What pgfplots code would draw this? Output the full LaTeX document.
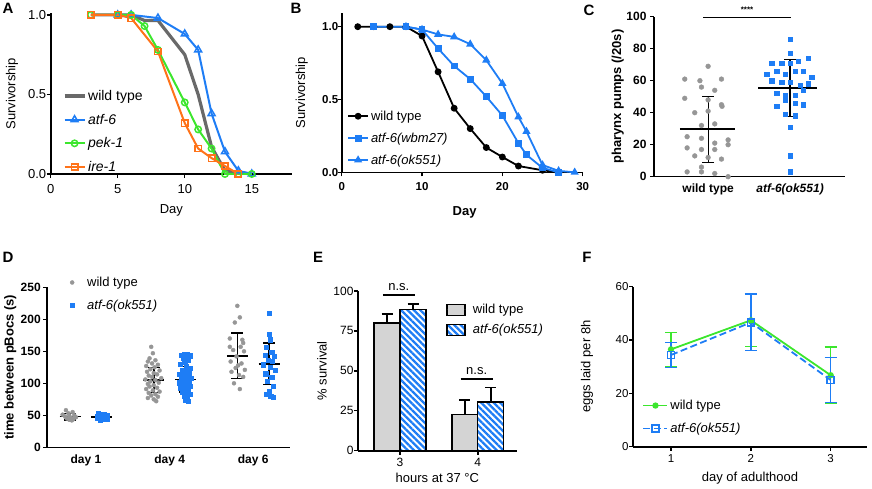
\documentclass[border=0pt]{standalone}
\usepackage{fontspec}
\setmainfont{Liberation Sans}
\usepackage{pgfplots}
\pgfplotsset{compat=1.18}
\usetikzlibrary{patterns.meta}

\definecolor{wtgray}{RGB}{105,105,105}
\definecolor{ptgray}{RGB}{150,150,150}
\definecolor{bargray}{RGB}{212,212,212}
\definecolor{atfblue}{RGB}{30,125,245}
\definecolor{pekgreen}{RGB}{60,230,45}
\definecolor{ireorange}{RGB}{255,115,25}

\newcommand{\tk}{\fontsize{12}{14}\selectfont}
\newcommand{\lb}{\fontsize{13}{15}\selectfont}

\pgfplotsset{
  panel/.style={
    scale only axis, anchor=south west, clip=false,
    axis lines=left, axis line style={-, line width=1.6pt},
    tick style={line width=1.4pt, black}, tick align=outside,
    major tick length=4pt,
    /pgf/number format/assume math mode=true,
    ticklabel style={font=\tk},
    label style={font=\lb},
    legend cell align=left,
    legend style={draw=none, fill=none, font=\lb, inner sep=0pt},
  },
  linelegend/.style={legend image code/.code={
    \draw[mark repeat=2,mark phase=2,##1] plot coordinates {(0pt,0pt) (10pt,0pt) (20pt,0pt)};}},
  sdbar/.style={draw=none, mark=none, error bars/.cd, y dir=both, y explicit,
    error bar style={draw=black, solid, line width=#1},
    error mark options={rotate=90, mark size=6pt, line width=#1, draw=black}},
}

\begin{document}
\begin{tikzpicture}
\useasboundingbox (0,0) rectangle (872pt,488pt);

% ---------- A ----------
\begin{axis}[panel, linelegend, at={(50.7pt,314pt)}, width=241.3pt, height=160.7pt,
  xmin=0, xmax=18, ymin=0, ymax=1.01, xtick={0,5,10,15}, ytick={0,0.5,1},
  ticklabel style={font=\fontsize{13}{15}\selectfont},
  yticklabel style={xshift=3pt, /pgf/number format/.cd, fixed, fixed zerofill, precision=1},
  xticklabel style={yshift=-3pt},
  xlabel={Day}, ylabel={Survivorship},
  xlabel style={at={(axis description cs:0.5,-0.224)}, anchor=center},
  ylabel style={at={(axis description cs:-0.16,0.5)}, anchor=center},
  legend style={at={(axis description cs:0.05,0.535)}, anchor=north west, row sep=8pt,
    font=\fontsize{14}{16}\selectfont}]
\addplot[wtgray, line width=3.2pt] coordinates {
 (3,1) (5,1) (6,1) (7,0.965) (8,0.965) (10,0.75) (11,0.5) (12,0.17) (13,0.02) (14,0.01) (15,0)};
\addplot[atfblue, line width=2pt, mark=triangle, mark size=4pt, mark options={fill=white, line width=1.5pt}] coordinates {
 (5,1) (6,1) (8,0.98) (10,0.88) (11,0.78) (12,0.38) (13,0.14) (14,0.02) (15,0)};
\addplot[pekgreen, line width=2pt, mark=o, mark size=3.2pt, mark options={fill=white, line width=1.5pt}] coordinates {
 (3,1) (5,1) (6,1) (7,0.93) (8,0.78) (10,0.45) (11,0.28) (12,0.16) (13,0) (14,0) (15,0)};
\addplot[ireorange, line width=2pt, mark=square, mark size=3.2pt, mark options={fill=white, line width=1.5pt}] coordinates {
 (3,1) (5,1) (6,0.98) (8,0.77) (10,0.32) (11,0.16) (12,0.1) (13,0.05) (14,0)};
\legend{wild type, \textit{atf-6}, \textit{pek-1}, \textit{ire-1}}
\end{axis}

% ---------- B ----------
\begin{axis}[panel, linelegend, at={(341.7pt,315.7pt)}, width=241pt, height=159.3pt,
  xmin=0, xmax=30, ymin=0, ymax=1.094, xtick={0,10,20,30}, ytick={0,0.5,1},
  ticklabel style={font=\fontsize{11.5}{13}\selectfont\bfseries},
  yticklabel style={xshift=4pt, /pgf/number format/.cd, fixed, fixed zerofill, precision=1},
  xticklabel style={yshift=-3pt},
  xlabel={\bfseries Day}, ylabel={Survivorship},
  xlabel style={at={(axis description cs:0.51,-0.249)}, anchor=center},
  ylabel style={at={(axis description cs:-0.166,0.5)}, anchor=center},
  legend style={at={(axis description cs:0.022,0.40)}, anchor=north west, row sep=7pt}]
\addplot[black, line width=1.8pt, mark=*, mark size=2.5pt] coordinates {
 (2,1) (4,1) (6,1) (8,1) (10,0.936) (12,0.69) (14,0.44) (16,0.30) (18,0.17) (20,0.105) (22,0.043) (25,0.014) (27,0)};
\addplot[atfblue, line width=1.8pt, mark=square*, mark size=2.5pt] coordinates {
 (4,1) (8,1) (10,0.98) (12,0.85) (14,0.73) (16,0.64) (18,0.52) (20,0.39) (22,0.2) (23,0.12) (25,0.03) (27,0)};
\addplot[atfblue, line width=1.8pt, mark=triangle*, mark size=3pt] coordinates {
 (8,1) (10,0.98) (12,0.947) (14,0.93) (16,0.88) (18,0.77) (20,0.61) (22,0.38) (23,0.28) (25,0.05) (27,0.01) (29,0)};
\legend{wild type, \textit{atf-6(wbm27)}, \textit{atf-6(ok551)}}
\end{axis}

% ---------- C ----------
\begin{axis}[panel, at={(654pt,311.3pt)}, width=191pt, height=160pt,
  xmin=0.34, xmax=2.67, ymin=0, ymax=100, xtick={1,2},
  xticklabels={wild type, \textit{atf-6(ok551)}}, xtick style={draw=none},
  ytick={0,20,...,100}, ticklabel style={font=\tk\bfseries},
  ylabel={\bfseries pharynx pumps (/20s)},
  ylabel style={at={(axis description cs:-0.19,0.5)}, anchor=center}]
\addplot[only marks, mark=*, mark size=2.4pt, ptgray] coordinates {
 (1.000,69) (0.715,61) (0.900,60) (1.163,61) (0.919,56) (1.081,54) (0.715,49) (1.000,48)
 (0.837,40) (1.000,41) (1.163,45) (1.170,44) (0.919,32) (1.081,33) (0.744,25) (0.919,24)
 (1.244,23) (1.081,21) (1.244,20) (0.744,18) (0.919,17) (1.081,17) (0.837,13) (1.000,12)
 (1.163,11) (0.919,6) (0.744,3) (0.919,3) (1.081,2) (1.244,0)};
\addplot[only marks, mark=square*, mark size=2.2pt, atfblue] coordinates {
 (2.000,86) (2.000,77) (1.776,71) (1.900,71) (2.000,71) (2.224,74) (2.100,72) (1.715,64)
 (1.837,66) (1.940,64) (2.060,66) (2.163,66) (2.264,62) (1.776,60) (1.900,59) (2.000,59)
 (2.120,57) (2.224,58) (2.163,54) (1.837,52) (1.940,51) (2.060,51) (1.940,48) (2.060,46)
 (1.837,44) (2.163,45) (1.940,39) (2.060,38) (2.000,31) (2.000,13) (2.000,3)};
% mean lines
\addplot[black, line width=2pt, unbounded coords=jump] coordinates {
 (0.655,29.5) (1.325,29.5) (nan,nan) (1.614,55.5) (2.333,55.5)};
% SD bars
\addplot[sdbar=1.2pt] coordinates {(1,29.5) +- (0,20.5) (2,55.25) +- (0,17.75)};
\addplot[black, line width=1.6pt] coordinates {(0.94,99.6) (2.01,99.6)};
\node[font=\fontsize{8}{9}\selectfont\bfseries, anchor=south] at (axis cs:1.475,100.5) {****};
\end{axis}

% ---------- D ----------
\begin{axis}[panel, at={(47.3pt,40.7pt)}, width=242.7pt, height=160pt,
  xmin=0.537, xmax=3.44, ymin=0, ymax=250, xtick={1,2,3},
  xticklabels={day 1, day 4, day 6}, xtick style={draw=none},
  ytick={0,50,...,250}, ticklabel style={font=\tk\bfseries},
  yticklabel style={xshift=1pt},
  ylabel={\bfseries time between pBocs (s)},
  ylabel style={at={(axis description cs:-0.153,0.5)}, anchor=center},
  legend image code/.code={\path[draw=none] (0pt,0pt) -- (19pt,0pt);
    \draw[mark repeat=2,mark phase=2,#1] plot coordinates {(0pt,0pt) (6pt,0pt) (12pt,0pt)};},
  legend style={at={(axis description cs:0.077,1.078)}, anchor=north west, row sep=8pt}]
\addplot[only marks, mark=*, mark size=2pt, ptgray] coordinates {
 (0.76,58) (0.84,55) (0.79,53) (0.72,51) (0.86,50) (0.80,49) (0.75,48) (0.88,47) (0.82,46)
 (0.77,45) (0.85,44) (0.80,43) (0.83,42)
 (1.78,157) (1.80,147) (1.76,139) (1.83,136) (1.74,134) (1.79,131) (1.86,129) (1.72,127)
 (1.82,125) (1.77,122) (1.88,120) (1.73,118) (1.81,116) (1.85,114) (1.75,112) (1.79,110)
 (1.90,108) (1.71,106) (1.83,105) (1.77,103) (1.87,101) (1.74,99) (1.81,97) (1.76,95)
 (1.85,93) (1.72,91) (1.80,89) (1.88,87) (1.75,85) (1.83,83) (1.78,81) (1.86,79) (1.74,77)
 (1.81,75) (1.84,72)
 (2.81,221) (2.84,203) (2.78,195) (2.72,170) (2.87,168) (2.88,163) (2.85,157) (2.72,157)
 (2.76,152) (2.89,150) (2.80,142) (2.73,134) (2.86,131) (2.82,128) (2.79,124) (2.90,121)
 (2.74,118) (2.83,113) (2.88,110) (2.77,100) (2.84,91)};
\addplot[only marks, mark=square*, mark size=2.1pt, atfblue] coordinates {
 (1.15,53) (1.22,52) (1.18,51) (1.25,50) (1.13,49) (1.20,48) (1.16,47) (1.23,47) (1.19,46)
 (1.14,45) (1.21,44) (1.25,44) (1.17,43)
 (2.17,146) (2.21,145) (2.14,144) (2.24,143) (2.19,141) (2.16,139) (2.22,136) (2.18,133)
 (2.13,130) (2.20,127) (2.25,124) (2.15,121) (2.19,118) (2.23,116) (2.12,114) (2.17,112)
 (2.21,110) (2.26,108) (2.14,106) (2.19,104) (2.23,103) (2.11,101) (2.16,99) (2.20,97)
 (2.25,95) (2.13,93) (2.18,91) (2.22,89) (2.15,87) (2.20,85) (2.24,83) (2.17,80) (2.21,77)
 (2.19,74) (2.22,72)
 (3.19,210) (3.19,177) (3.20,168) (3.16,157) (3.22,148) (3.14,144) (3.25,142) (3.18,136)
 (3.23,134) (3.12,129) (3.20,125) (3.26,121) (3.15,115) (3.22,109) (3.17,103) (3.24,95)
 (3.19,87) (3.16,83) (3.21,80) (3.24,78)};
\legend{wild type, \textit{atf-6(ok551)}}
\addplot[black, line width=1.8pt, unbounded coords=jump] coordinates {
 (0.684,48) (0.936,48) (nan,nan) (1.064,47.5) (1.316,47.5) (nan,nan)
 (1.684,105) (1.936,105) (nan,nan) (2.064,106) (2.316,106) (nan,nan)
 (2.684,143) (2.936,143) (nan,nan) (3.064,130.5) (3.316,130.5)};
\addplot[sdbar=1.6pt] coordinates {
 (0.81,48) +- (0,5) (1.19,47.5) +- (0,3.5) (1.81,105) +- (0,19.5)
 (2.19,106) +- (0,20) (2.81,143) +- (0,35.5) (3.19,130.5) +- (0,32.5)};
\end{axis}

% ---------- E ----------
\begin{axis}[panel, at={(358pt,37.3pt)}, width=158.7pt, height=159.7pt,
  xmin=2.46, xmax=4.5, ymin=0, ymax=100, xtick={3,4}, ytick={0,25,...,100},
  yticklabel style={xshift=3pt},
  xlabel={hours at 37 °C}, ylabel={\% survival},
  xlabel style={at={(axis description cs:0.5,-0.171)}, anchor=center},
  ylabel style={at={(axis description cs:-0.227,0.5)}, anchor=center},
  legend image code/.code={\draw[#1] (0pt,-5.5pt) rectangle (18pt,5.5pt); \path[draw=none] (0pt,0pt) -- (22pt,0pt);},
  legend style={at={(axis description cs:0.555,0.93)}, anchor=north west, row sep=5pt,
    nodes={inner xsep=4pt}}]
\addplot[ybar, bar width=0.333, bar shift=0pt, fill=bargray, draw=black, line width=1.3pt,
  error bars/.cd, y dir=plus, y explicit, error bar style={line width=1.6pt, black},
  error mark options={rotate=90, mark size=5.5pt, line width=1.6pt, black}]
  coordinates {(2.833,80) +- (0,5.5) (3.833,22.7) +- (0,9)};
\addplot[ybar, bar width=0.333, bar shift=0pt, draw=black, line width=1.3pt,
  pattern={Lines[angle=-45, distance=4.5pt, line width=2.3pt]}, pattern color=atfblue,
  error bars/.cd, y dir=plus, y explicit, error bar style={line width=1.6pt, black},
  error mark options={rotate=90, mark size=5.5pt, line width=1.6pt, black}]
  coordinates {(3.167,88.5) +- (0,3.2) (4.167,30.5) +- (0,9.2)};
\legend{wild type, \textit{atf-6(ok551)}}
\addplot[black, line width=1.8pt] coordinates {(2.78,97.5) (3.19,97.5)};
\addplot[black, line width=1.8pt] coordinates {(3.78,45) (4.19,45)};
\node[font=\lb, anchor=south] at (axis cs:2.985,98) {n.s.};
\node[font=\lb, anchor=south] at (axis cs:3.985,45.5) {n.s.};
\end{axis}

% ---------- F ----------
\begin{axis}[panel, at={(633pt,41.3pt)}, width=234pt, height=160pt,
  xmin=0.524, xmax=3.455, ymin=0, ymax=60, xtick={1,2,3}, ytick={0,20,40,60},
  ticklabel style={font=\fontsize{11.5}{13}\selectfont},
  yticklabel style={xshift=3pt},
  xlabel={day of adulthood}, ylabel={eggs laid per 8h},
  xlabel style={at={(axis description cs:0.5,-0.196)}, anchor=center},
  ylabel style={at={(axis description cs:-0.197,0.5)}, anchor=center},
  legend image code/.code={\draw[mark repeat=2,mark phase=2,#1] plot coordinates {(0pt,0pt) (12pt,0pt) (24pt,0pt)};},
  legend style={at={(axis description cs:0.04,0.305)}, anchor=north west, row sep=8pt}]
\addplot[pekgreen, line width=1.8pt, mark=*, mark size=2.2pt,
  error bars/.cd, y dir=both, y explicit, error bar style={line width=1.5pt},
  error mark options={rotate=90, mark size=6pt, line width=1.5pt, pekgreen}]
  coordinates {(1,36.5) +- (0,6.4) (2,47.4) +- (0,9.9) (3,26.8) +- (0,10.5)};
\addplot[atfblue, line width=1.8pt, dash pattern=on 7pt off 3.5pt, mark=square, mark size=3.5pt,
  mark options={solid, fill=white, line width=1.5pt},
  error bars/.cd, y dir=both, y explicit, error bar style={solid, line width=1.5pt},
  error mark options={rotate=90, mark size=6pt, line width=1.5pt, atfblue, solid}]
  coordinates {(1,34.4) +- (0,4.7) (2,46.6) +- (0,10.6) (3,25) +- (0,8.4)};
\legend{wild type, \textit{atf-6(ok551)}}
\end{axis}

% panel letters
\node[font=\fontsize{15}{16}\selectfont\bfseries] at (8pt,480pt) {A};
\node[font=\fontsize{15}{16}\selectfont\bfseries] at (296pt,480pt) {B};
\node[font=\fontsize{15}{16}\selectfont\bfseries] at (589pt,478pt) {C};
\node[font=\fontsize{15}{16}\selectfont\bfseries] at (8pt,231pt) {D};
\node[font=\fontsize{15}{16}\selectfont\bfseries] at (318pt,231pt) {E};
\node[font=\fontsize{15}{16}\selectfont\bfseries] at (587pt,231pt) {F};
\end{tikzpicture}
\end{document}
